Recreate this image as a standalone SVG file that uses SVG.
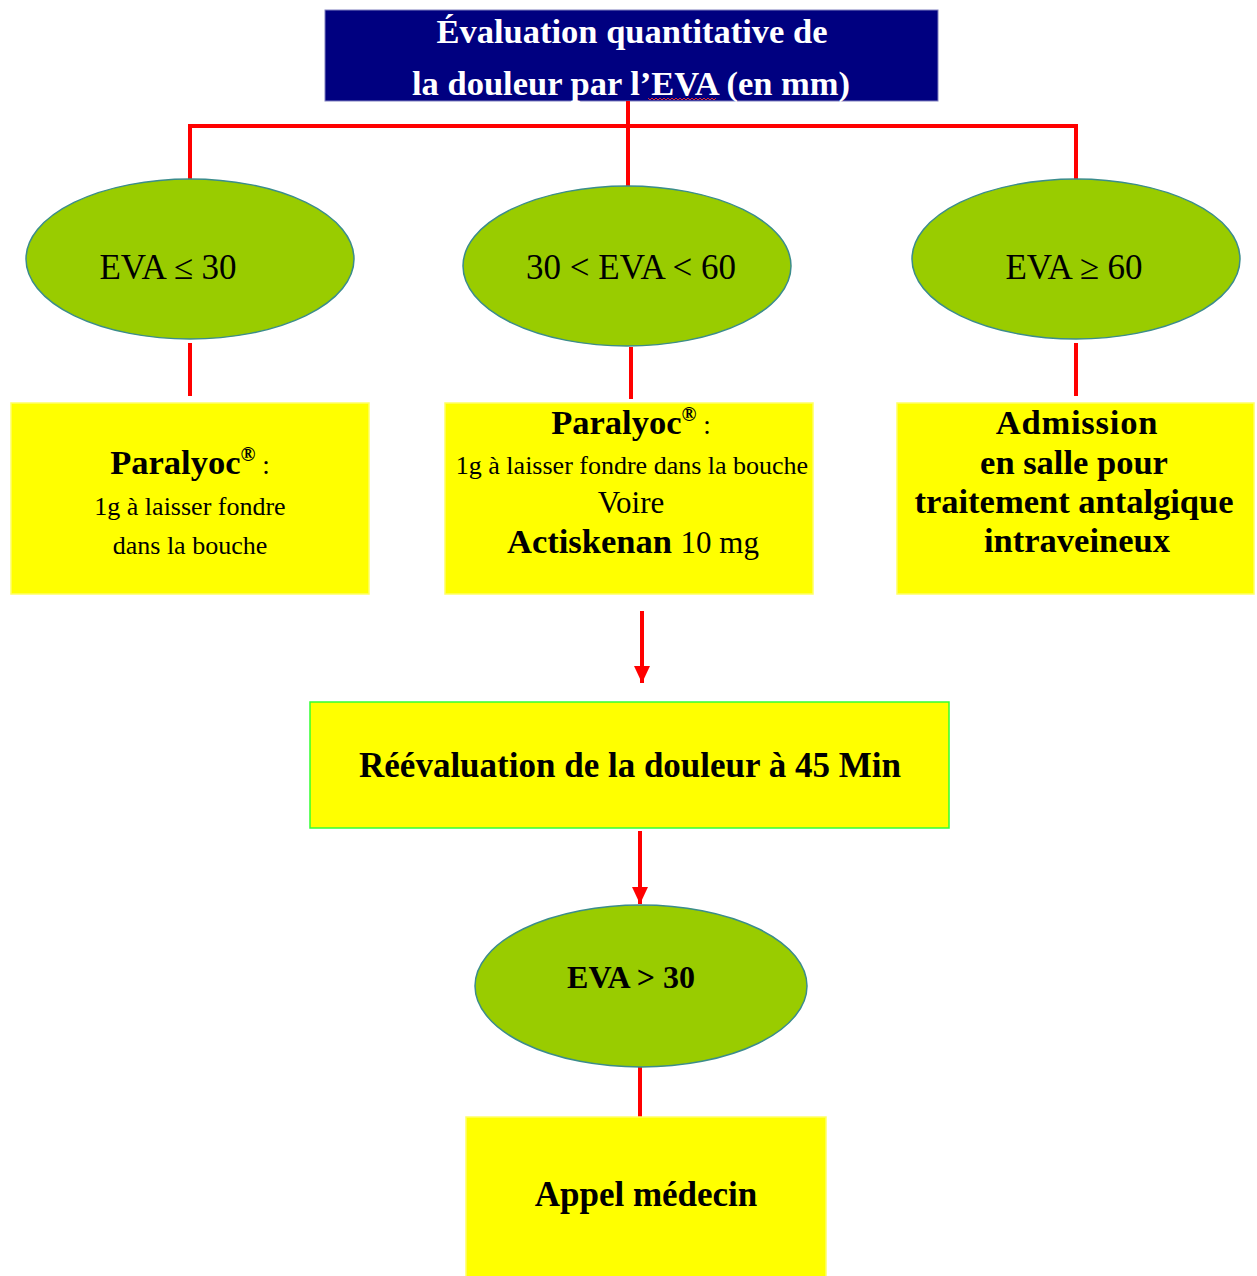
<svg xmlns="http://www.w3.org/2000/svg" width="1257" height="1276" viewBox="0 0 1257 1276">
<style>
text{font-family:"Liberation Serif","Times New Roman",serif;fill:#000;text-anchor:middle}
.b{font-weight:bold}
.w{fill:#fff}
.ell{fill:#99CC00;stroke:#3B8C8C;stroke-width:1.5}
.box{fill:#FFFF00;stroke:#FFFF66;stroke-width:1.5}
.con{stroke:#FF0000;stroke-width:4;fill:none}
</style>
<defs>
<marker id="ah" viewBox="0 0 17 16" refX="17" refY="8" markerWidth="17" markerHeight="16" markerUnits="userSpaceOnUse" orient="auto">
<path d="M0,0 L17,8 L0,16 z" fill="#FF0000"/>
</marker>
</defs>
<rect width="1257" height="1276" fill="#fff"/>
<g id="title">
<rect x="325" y="10" width="613" height="91" fill="#000080" stroke="#8080C0" stroke-width="1"/>
<text class="b w" x="632" y="43" font-size="34.5">Évaluation quantitative de</text>
<text class="b w" x="631" y="95" font-size="34.5">la douleur par l’EVA (en mm)</text>
<path d="M648,98 l2,2 l2,-2 l2,2 l2,-2 l2,2 l2,-2 l2,2 l2,-2 l2,2 l2,-2 l2,2 l2,-2 l2,2 l2,-2 l2,2 l2,-2 l2,2 l2,-2 l2,2 l2,-2 l2,2 l2,-2 l2,2 l2,-2 l2,2 l2,-2 l2,2 l2,-2 l2,2 l2,-2 l2,2 l2,-2 l2,2 l2,-2" fill="none" stroke="#E03030" stroke-width="1"/>
</g>
<g id="connectors">
<path class="con" d="M628,101 V126"/>
<path class="con" d="M190,180 V126 H1076 V180"/>
<path class="con" d="M628,126 V186"/>
<path class="con" d="M190,343 V396"/>
<path class="con" d="M631,347 V399"/>
<path class="con" d="M1076,343 V396"/>
<path class="con" d="M642,611 V683" stroke-width="3.5" marker-end="url(#ah)"/>
<path class="con" d="M640,831 V904" stroke-width="3.5" marker-end="url(#ah)"/>
<path class="con" d="M640,1065 V1117"/>
</g>
<g id="e1">
<ellipse class="ell" cx="190" cy="259" rx="164" ry="80"/>
<text x="168" y="279" font-size="35">EVA ≤ 30</text>
</g>
<g id="e2">
<ellipse class="ell" cx="627" cy="266" rx="164" ry="80"/>
<text x="631" y="279" font-size="35">30 &lt; EVA &lt; 60</text>
</g>
<g id="e3">
<ellipse class="ell" cx="1076" cy="259" rx="164" ry="80"/>
<text x="1074" y="279" font-size="35">EVA ≥ 60</text>
</g>
<g id="b1">
<rect class="box" x="11" y="403" width="358" height="191"/>
<text x="190" y="474" font-size="34.5"><tspan class="b">Paralyoc<tspan font-size="20" dy="-13">®</tspan></tspan><tspan dy="13" font-size="27"> :</tspan></text>
<text x="190" y="515" font-size="26">1g à laisser fondre</text>
<text x="190" y="554" font-size="26">dans la bouche</text>
</g>
<g id="b2">
<rect class="box" x="445" y="403" width="368" height="191"/>
<text x="631" y="434" font-size="34.5"><tspan class="b">Paralyoc<tspan font-size="20" dy="-13">®</tspan></tspan><tspan dy="13" font-size="27"> :</tspan></text>
<text x="632" y="474" font-size="26">1g à laisser fondre dans la bouche</text>
<text x="631" y="513" font-size="31">Voire</text>
<text x="633" y="553" font-size="34.5"><tspan class="b">Actiskenan</tspan> <tspan font-size="31">10 mg</tspan></text>
</g>
<g id="b3">
<rect class="box" x="897" y="403" width="357" height="191"/>
<text class="b" x="1077" y="434" font-size="34.5" letter-spacing="0.8">Admission</text>
<text class="b" x="1074" y="474" font-size="34.5">en salle pour</text>
<text class="b" x="1074" y="513" font-size="34.5">traitement antalgique</text>
<text class="b" x="1077" y="552" font-size="34.5">intraveineux</text>
</g>
<g id="b4">
<rect x="310" y="702" width="639" height="126" fill="#FFFF00" stroke="#33FF33" stroke-width="1.5"/>
<text class="b" x="630" y="777" font-size="35">Réévaluation de la douleur à 45 Min</text>
</g>
<g id="e4">
<ellipse class="ell" cx="641" cy="986" rx="166" ry="81"/>
<text class="b" x="631" y="988" font-size="32">EVA &gt; 30</text>
</g>
<g id="b5">
<rect class="box" x="466" y="1117" width="360" height="165"/>
<text class="b" x="646" y="1206" font-size="35">Appel médecin</text>
</g>
</svg>
